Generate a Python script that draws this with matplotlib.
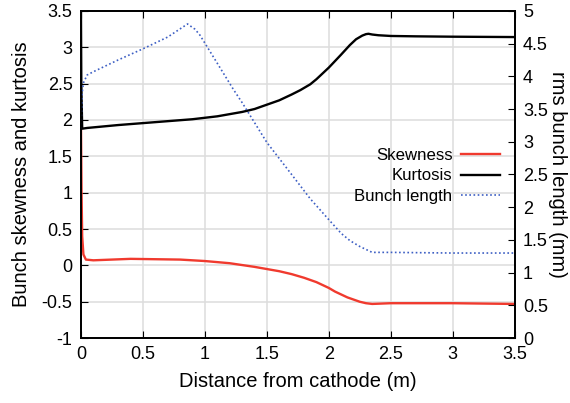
import numpy as np
import matplotlib.pyplot as plt
from matplotlib.ticker import FuncFormatter

plt.rcParams['font.family'] = ['Liberation Sans', 'DejaVu Sans']

# distance from cathode (m) and values
x_kurt = [0, 0.003, 0.01, 0.05, 0.3, 0.6, 0.9, 1.1, 1.3, 1.4, 1.5, 1.6, 1.7,
          1.77, 1.85, 1.9, 2.0, 2.05, 2.1, 2.17, 2.22, 2.27, 2.3, 2.32, 2.35,
          2.4, 2.5, 2.7, 3.0, 3.5]
kurtosis = [3.5, 2.5, 1.88, 1.89, 1.93, 1.97, 2.01, 2.05, 2.11, 2.15, 2.21,
            2.27, 2.35, 2.41, 2.49, 2.56, 2.72, 2.81, 2.9, 3.03, 3.11, 3.16,
            3.18, 3.185, 3.175, 3.165, 3.155, 3.15, 3.145, 3.14]

x_skew = [0, 0.005, 0.01, 0.02, 0.04, 0.1, 0.4, 0.8, 1.0, 1.2, 1.4, 1.5, 1.6,
          1.7, 1.8, 1.9, 2.0, 2.05, 2.1, 2.15, 2.2, 2.25, 2.3, 2.35, 2.5, 3.0,
          3.5]
skewness = [2.0, 1.0, 0.4, 0.15, 0.08, 0.07, 0.09, 0.08, 0.06, 0.03, -0.02,
            -0.05, -0.08, -0.12, -0.17, -0.23, -0.31, -0.36, -0.40, -0.44,
            -0.47, -0.50, -0.52, -0.53, -0.52, -0.52, -0.53]

x_len = [0, 0.005, 0.01, 0.02, 0.05, 0.1, 0.3, 0.5, 0.7, 0.86, 0.92, 0.96,
         1.1, 1.23, 1.3, 1.5, 1.7, 1.85, 2.0, 2.1, 2.17, 2.25, 2.35, 2.5,
         3.0, 3.5]
bunch_len = [3.2, 3.5, 3.75, 3.9, 4.02, 4.07, 4.25, 4.42, 4.6, 4.8, 4.72, 4.63,
             4.2, 3.8, 3.6, 2.99, 2.5, 2.13, 1.81, 1.6, 1.49, 1.40, 1.31, 1.31,
             1.30, 1.30]

fig = plt.figure(figsize=(5.7, 4.03), dpi=100)
ax = fig.add_axes([0.142, 0.161, 0.761, 0.812])
ax2 = ax.twinx()

l1, = ax.plot(x_skew, skewness, color='#f03a2e', lw=1.7, label='Skewness')
l2, = ax.plot(x_kurt, kurtosis, color='black', lw=1.7, label='Kurtosis')
l3, = ax2.plot(x_len, bunch_len, color='#3d5fc4', lw=1.2, ls=(0, (1, 1.5)),
               label='Bunch length')

ax.set_xlim(0, 3.5)
ax.set_ylim(-1, 3.5)
ax2.set_ylim(0, 5)
ax.set_xticks(np.arange(0, 3.51, 0.5))
ax.set_yticks(np.arange(-1, 3.51, 0.5))
ax2.set_yticks(np.arange(0, 5.01, 0.5))
fmt = FuncFormatter(lambda v, p: '%g' % v)
ax.xaxis.set_major_formatter(fmt)
ax.yaxis.set_major_formatter(fmt)
ax2.yaxis.set_major_formatter(fmt)

ax.grid(True, color='#dddddd', lw=1.1)
ax.set_axisbelow(True)
ax.tick_params(direction='in', top=True, length=5, labelsize=13, pad=6)
ax2.tick_params(direction='in', length=5, labelsize=13, pad=6)
for a in (ax, ax2):
    for s in a.spines.values():
        s.set_linewidth(1.3)

ax.set_xlabel('Distance from cathode (m)', fontsize=14.5, labelpad=6)
ax.set_ylabel('Bunch skewness and kurtosis', fontsize=14.5, labelpad=8)
ax2.set_ylabel('rms bunch length (mm)', fontsize=14.5, rotation=270, labelpad=14)

leg = ax2.legend([l1, l2, l3], ['Skewness', 'Kurtosis', 'Bunch length'],
                 loc='upper right', bbox_to_anchor=(1.0, 0.627), frameon=False,
                 markerfirst=False, fontsize=12.1, handlelength=2.3,
                 labelspacing=0.32, handletextpad=0.5)
for t in leg.get_texts():
    t.set_ha('right')

fig.savefig('out.png', dpi=100)
